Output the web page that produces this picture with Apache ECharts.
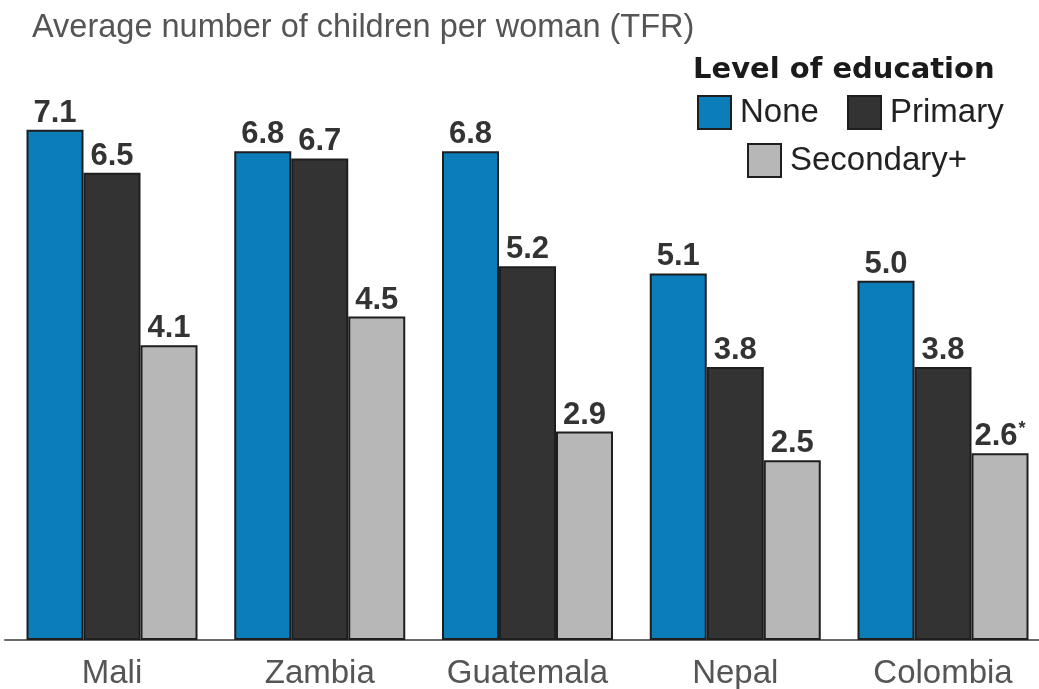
<!DOCTYPE html>
<html>
<head>
<meta charset="utf-8">
<style>
  html, body { margin: 0; padding: 0; background: #ffffff; }
  #chart { width: 1039px; height: 689px; }
</style>
<script src="https://cdn.jsdelivr.net/npm/echarts@6/dist/echarts.min.js"></script>
</head>
<body>
<div id="chart"></div>
<script>
// ---- data ----
var countries = ['Mali', 'Zambia', 'Guatemala', 'Nepal', 'Colombia'];
var seriesNames = ['None', 'Primary', 'Secondary+'];
var noneValues = [7.1, 6.8, 6.8, 5.1, 5.0];
var primaryValues = [6.5, 6.7, 5.2, 3.8, 3.8];
var secondaryValues = [4.1, 4.5, 2.9, 2.5, 2.6];
var secondaryNotes = ['', '', '', '', '*'];
var titleText = 'Average number of children per woman (TFR)';
var legendTitle = 'Level of education';

// ---- styling ----
var FONT = '"Liberation Sans", Arial, Helvetica, sans-serif';
var colors = ['#0b7db8', '#333333', '#b7b7b7'];
var borderColor = '#1e1e1e';

function valueLabel(notes) {
  return {
    show: true,
    position: 'top',
    distance: 1,
    fontFamily: FONT,
    fontSize: 31,
    fontWeight: 'bold',
    color: '#333333',
    formatter: function (p) {
      var v = p.value.toFixed(1);
      var n = notes ? notes[p.dataIndex] : '';
      return n ? '{v|' + v + '}{s|' + n + '}' : '{v|' + v + '}';
    },
    rich: {
      v: { fontFamily: FONT, fontSize: 31, fontWeight: 'bold', color: '#333333' },
      s: { fontFamily: FONT, fontSize: 18, fontWeight: 'bold', color: '#333333', verticalAlign: 'top', padding: [0, 0, 14, 1] }
    }
  };
}

function makeSeries(name, values, color, notes) {
  return {
    name: name,
    type: 'bar',
    xAxisIndex: 0,
    yAxisIndex: 0,
    data: values,
    barWidth: 57,
    barGap: '0%',
    clip: false,
    itemStyle: { color: color, borderColor: borderColor, borderWidth: 2 },
    label: valueLabel(notes),
    emphasis: { disabled: true }
  };
}

function legendFor(name, left, top) {
  return {
    data: [name],
    left: left,
    top: top,
    padding: 0,
    icon: 'rect',
    itemWidth: 33,
    itemHeight: 33,
    selectedMode: false,
    textStyle: { fontFamily: FONT, fontSize: 33, color: '#222222', padding: [0, 0, 0, 4] }
  };
}

var chart = echarts.init(document.getElementById('chart'), null, { renderer: 'canvas' });
chart.setOption({
  animation: false,
  backgroundColor: '#ffffff',
  color: colors,
  title: [
    {
      text: titleText,
      left: 32,
      top: 12,
      padding: 0,
      textStyle: { fontFamily: FONT, fontSize: 32.5, fontWeight: 'normal', color: '#555555' }
    },
    {
      text: legendTitle,
      left: 693,
      top: 56,
      padding: 0,
      textStyle: { fontFamily: '"DejaVu Sans", sans-serif', fontSize: 29, fontWeight: 'bold', color: '#1a1a1a' }
    }
  ],
  legend: [
    legendFor('None', 697, 95),
    legendFor('Primary', 847, 95),
    legendFor('Secondary+', 747, 143)
  ],
  grid: [
    // plotting grid: category centres span from first to last group centre
    { left: 112, right: 96, top: 65, bottom: 49, containLabel: false, outerBoundsMode: 'none' },
    // baseline grid: only draws the full-width axis line
    { left: 5, right: 0, top: 65, bottom: 49, containLabel: false, outerBoundsMode: 'none' }
  ],
  xAxis: [
    {
      type: 'category',
      gridIndex: 0,
      data: countries,
      boundaryGap: false,
      axisLine: { show: false },
      axisTick: { show: false },
      splitLine: { show: false },
      axisLabel: { interval: 0, margin: 17, fontFamily: FONT, fontSize: 33, color: '#555555' }
    },
    {
      type: 'category',
      gridIndex: 1,
      data: countries,
      axisLine: { show: true, lineStyle: { color: '#6a6a6a', width: 2 } },
      axisTick: { show: false },
      axisLabel: { show: false },
      splitLine: { show: false }
    }
  ],
  yAxis: [
    { type: 'value', gridIndex: 0, min: 0, max: 8, show: false, splitLine: { show: false } },
    { type: 'value', gridIndex: 1, min: 0, max: 8, show: false, splitLine: { show: false } }
  ],
  series: [
    makeSeries(seriesNames[0], noneValues, colors[0], null),
    makeSeries(seriesNames[1], primaryValues, colors[1], null),
    makeSeries(seriesNames[2], secondaryValues, colors[2], secondaryNotes)
  ]
});
</script>
</body>
</html>
